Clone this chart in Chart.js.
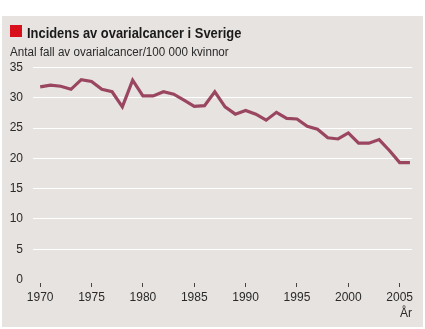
<!DOCTYPE html>
<html>
<head>
<meta charset="utf-8">
<script src="https://cdn.jsdelivr.net/npm/chart.js@4/dist/chart.umd.min.js"></script>
<style>
  body { margin: 0; background: #fff; }
  #wrap { position: relative; width: 425px; height: 329px; overflow: hidden; }
  #panel { position: absolute; left: 2px; top: 16px; width: 421px; height: 311px; background: #e7e3e0; }
  #chart { position: absolute; left: 0; top: 0; }
  .rubrik { position: absolute; left: 27px; top: 24.6px; font: bold 15px/15px "Liberation Sans", sans-serif; color: #1a1a1a; white-space: nowrap; transform: scaleX(0.86); transform-origin: left center; }
  .ruta { position: absolute; left: 10px; top: 25px; width: 12px; height: 12px; background: #d7101c; }
  .under { position: absolute; left: 10px; top: 45.7px; font: 12px/12px "Liberation Sans", sans-serif; color: #2a2a2a; white-space: nowrap; transform: scaleX(0.97); transform-origin: left center; }
</style>
</head>
<body>
<div id="wrap">
  <div id="panel"></div>
  <canvas id="chart" width="425" height="329"></canvas>
  <div class="ruta"></div>
  <div class="rubrik">Incidens av ovarialcancer i Sverige</div>
  <div class="under">Antal fall av ovarialcancer/100 000 kvinnor</div>
</div>
<script>
// Incidens per 100 000 kvinnor, 1970-2006
const ar = [1970, 1971, 1972, 1973, 1974, 1975, 1976, 1977, 1978, 1979,
            1980, 1981, 1982, 1983, 1984, 1985, 1986, 1987, 1988, 1989,
            1990, 1991, 1992, 1993, 1994, 1995, 1996, 1997, 1998, 1999,
            2000, 2001, 2002, 2003, 2004, 2005, 2006];
const incidens = [31.8, 32.1, 31.9, 31.4, 33.0, 32.7, 31.4, 31.0, 28.5, 32.9,
                  30.3, 30.3, 31.0, 30.6, 29.6, 28.6, 28.7, 31.0, 28.5, 27.3,
                  27.9, 27.3, 26.3, 27.6, 26.6, 26.5, 25.3, 24.8, 23.4, 23.2,
                  24.2, 22.5, 22.5, 23.1, 21.3, 19.3, 19.3];
const xTicks = [1970, 1975, 1980, 1985, 1990, 1995, 2000, 2005];
const yTicks = [0, 5, 10, 15, 20, 25, 30, 35];

const textFont = { family: "'Liberation Sans', sans-serif", size: 12 };

new Chart(document.getElementById("chart"), {
    type: "line",
    data: {
        datasets: [{
            data: ar.map((a, i) => ({ x: a, y: incidens[i] })),
            borderColor: "#9a4660",
            borderWidth: 3.2,
            pointRadius: 0,
            tension: 0
        }]
    },
    options: {
        responsive: false,
        animation: false,
        layout: { padding: { left: 0, right: 13, top: 67.5, bottom: 0 } },
        plugins: { legend: { display: false }, tooltip: { enabled: false } },
        scales: {
            x: {
                type: "linear",
                min: 1969.3,
                max: 2006.2,
                afterBuildTicks: s => { s.ticks = xTicks.map(v => ({ value: v })); },
                afterFit: s => { s.height = 46; },
                border: { display: false },
                grid: { drawOnChartArea: false, drawTicks: true, tickLength: 4, tickColor: "#444", tickWidth: 1 },
                ticks: { font: textFont, color: "#2a2a2a", padding: 3, maxRotation: 0, callback: v => String(v) },
                title: { display: true, text: "År", align: "end", font: textFont, color: "#2a2a2a", padding: { top: 0, bottom: 8 } }
            },
            y: {
                min: -0.58,
                max: 35,
                afterBuildTicks: s => { s.ticks = yTicks.map(v => ({ value: v })); },
                afterFit: s => { s.width = 33; },
                border: { display: false },
                grid: {
                    drawTicks: false,
                    lineWidth: 1,
                    color: c => c.tick && c.tick.value === 0 ? "rgba(0,0,0,0)" : "#ffffff"
                },
                ticks: { font: textFont, color: "#2a2a2a", padding: 10 }
            }
        }
    }
});
</script>
</body>
</html>
